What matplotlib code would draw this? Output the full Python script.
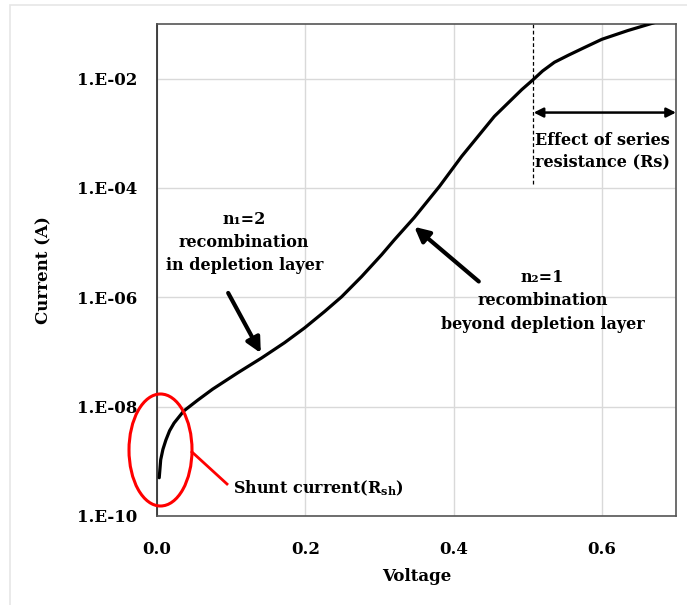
import matplotlib
matplotlib.use("Agg")
import matplotlib.pyplot as plt
from matplotlib.patches import Ellipse, Rectangle

plt.rcParams['font.family'] = ['DejaVu Serif']
plt.rcParams['font.weight'] = 'bold'
plt.rcParams['mathtext.fontset'] = 'custom'
plt.rcParams['mathtext.rm'] = 'DejaVu Serif:bold'
plt.rcParams['mathtext.default'] = 'rm'

# Data (Voltage, log10 current)
voltage = [0.003, 0.005, 0.008, 0.012, 0.017, 0.023, 0.036, 0.055, 0.075, 0.109,
           0.141, 0.172, 0.199, 0.226, 0.249, 0.276, 0.303, 0.32, 0.347, 0.381,
           0.411, 0.455, 0.492, 0.508, 0.52, 0.536, 0.555, 0.575, 0.6, 0.635,
           0.672, 0.685]
log_current = [-9.30, -8.97, -8.78, -8.61, -8.44, -8.30, -8.08, -7.88, -7.68, -7.38,
               -7.11, -6.83, -6.56, -6.26, -5.99, -5.62, -5.22, -4.95, -4.54, -3.97,
               -3.42, -2.69, -2.20, -2.01, -1.86, -1.70, -1.57, -1.44, -1.28, -1.12,
               -0.97, -0.93]
x_ticks = [0.0, 0.2, 0.4, 0.6]
x_tick_labels = ['0.0', '0.2', '0.4', '0.6']
y_ticks = [1e-10, 1e-8, 1e-6, 1e-4, 1e-2]
y_tick_labels = ['1.E-10', '1.E-08', '1.E-06', '1.E-04', '1.E-02']

current = [10 ** v for v in log_current]

fig = plt.figure(figsize=(6.87, 6.05), dpi=100)
ax = fig.add_axes([157 / 687, 1 - 516 / 605, 519 / 687, 492 / 605])

# light frame around the figure
fig.patches.append(Rectangle((10 / 687, -0.01), 1.1, 1 - 5 / 605 + 0.01,
                             transform=fig.transFigure, fill=False,
                             edgecolor='#e6e6e6', linewidth=1.2))

ax.set_yscale('log')
ax.set_xlim(0, 0.7)
ax.set_ylim(1e-10, 1e-1)
ax.set_xticks(x_ticks)
ax.set_xticklabels(x_tick_labels)
ax.set_yticks(y_ticks)
ax.set_yticklabels(y_tick_labels)
ax.minorticks_off()
ax.tick_params(length=0, labelsize=12)
ax.tick_params(axis='y', pad=14)
ax.tick_params(axis='x', pad=18)
for lbl in ax.get_xticklabels() + ax.get_yticklabels():
    lbl.set_fontweight('bold')

ax.grid(True, which='major', color='#d9d9d9', linewidth=1.0)
ax.set_axisbelow(True)
for s in ax.spines.values():
    s.set_color('#555555')
    s.set_linewidth(1.2)
ax.spines['left'].set_color('#222222')

ax.plot(voltage, current, color='black', linewidth=2.3, solid_capstyle='round',
        solid_joinstyle='round', zorder=3)

ax.set_xlabel('Voltage', fontsize=12, fontweight='bold', labelpad=7)
ax.set_ylabel('Current (A)', fontsize=12, fontweight='bold', labelpad=18)

# dashed line for series resistance region
ax.plot([0.507, 0.507], [1e-1, 1.1e-4], color='black', linestyle=(0, (3, 2)), linewidth=0.9)
ax.annotate('', xy=(0.70, 10 ** -2.62), xytext=(0.508, 10 ** -2.62),
            arrowprops=dict(arrowstyle='<|-|>', color='black', lw=1.8,
                            mutation_scale=14, shrinkA=0, shrinkB=0),
            annotation_clip=False)
ax.text(0.510, 10 ** -3.33, 'Effect of series\nresistance (Rs)', fontsize=11.5,
        fontweight='bold', ha='left', va='center', linespacing=1.35)

# n1 = 2
ax.text(0.1176, 10 ** -5.0, 'n\u2081=2\nrecombination\nin depletion layer', fontsize=11.5,
        fontweight='bold', ha='center', va='center', linespacing=1.45)
ax.annotate('', xy=(0.14, 10 ** -7.02), xytext=(0.096, 10 ** -5.92),
            arrowprops=dict(arrowstyle='-|>', color='black', lw=3.0, mutation_scale=22,
                            shrinkA=0, shrinkB=0))

# n2 = 1
ax.text(0.520, 10 ** -6.06, 'n\u2082=1\nrecombination\nbeyond depletion layer', fontsize=11.5,
        fontweight='bold', ha='center', va='center', linespacing=1.5)
ax.annotate('', xy=(0.347, 10 ** -4.71), xytext=(0.434, 10 ** -5.71),
            arrowprops=dict(arrowstyle='-|>', color='black', lw=3.0, mutation_scale=22,
                            shrinkA=0, shrinkB=0))

# shunt current ellipse
ell = Ellipse((3.5 / 519, 66 / 492), 63 / 519, 112 / 492, transform=ax.transAxes,
              fill=False, edgecolor='red', linewidth=2.2, clip_on=False, zorder=4)
ax.add_patch(ell)
ax.plot([35 / 519, 70 / 519], [64 / 492, 32 / 492], color='red', linewidth=2.0,
        transform=ax.transAxes, clip_on=False, zorder=4)
ax.text(76 / 519, 28 / 492, r'Shunt current(R$_{\mathrm{sh}}$)', fontsize=11.5,
        fontweight='bold', ha='left', va='center', transform=ax.transAxes)

fig.savefig('out.png', dpi=100)
